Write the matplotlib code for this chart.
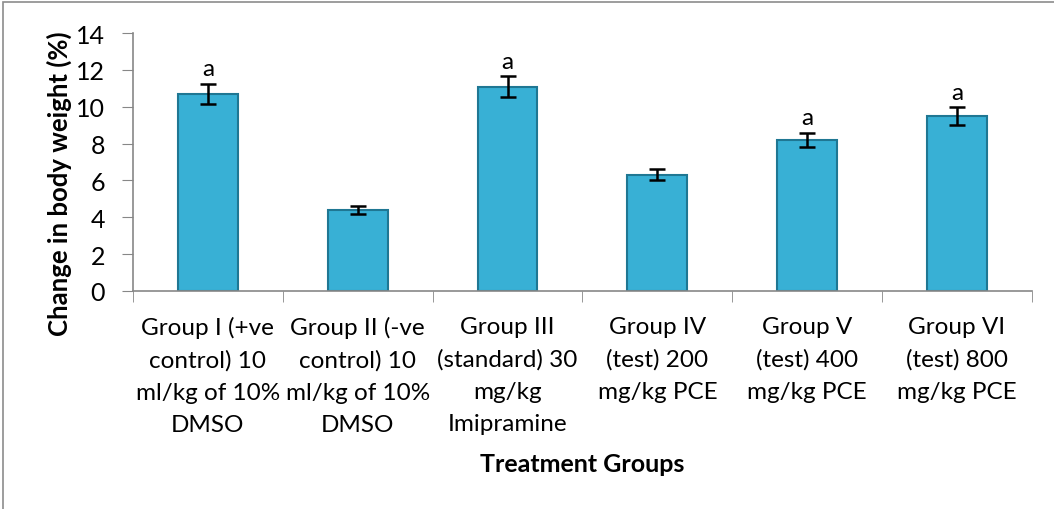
import matplotlib.pyplot as plt
import matplotlib.patches as mpatches
import numpy as np

groups = ['Group I (+ve\ncontrol) 10\nml/kg of 10%\nDMSO',
          'Group II (-ve\ncontrol) 10\nml/kg of 10%\nDMSO',
          'Group III\n(standard) 30\nmg/kg\nImipramine',
          'Group IV\n(test) 200\nmg/kg PCE',
          'Group V\n(test) 400\nmg/kg PCE',
          'Group VI\n(test) 800\nmg/kg PCE']
weight_change = [10.7, 4.4, 11.1, 6.3, 8.2, 9.5]
sem = [0.55, 0.2, 0.55, 0.3, 0.4, 0.47]
letters = ['a', '', 'a', '', 'a', 'a']

plt.rcParams['font.family'] = ['Lato', 'DejaVu Sans']

fig = plt.figure(figsize=(10.54, 5.10), dpi=100)
ax = fig.add_axes([0.1262, 0.4275, 0.8528, 0.5055])

# chart border like excel
fig.patches.append(mpatches.Rectangle((3 / 1054, -0.1), 1.2, 1.1 - 3 / 510,
                                      transform=fig.transFigure, fill=False,
                                      edgecolor='#8c8c8c', linewidth=1.2))

x = np.arange(len(groups))
ax.bar(x, weight_change, width=0.4, color='#38b0d5', edgecolor='#1f7793', linewidth=1.5, zorder=2)
ax.errorbar(x, weight_change, yerr=sem, fmt='none', ecolor='black', elinewidth=1.8,
            capsize=6, capthick=1.8, zorder=3)
for xi, v, s, l in zip(x, weight_change, sem, letters):
    if l:
        ax.text(xi, v + s + 0.25, l, ha='center', va='bottom', fontsize=17.5)

ax.set_xlim(-0.5, len(groups) - 0.5)
ax.set_ylim(0, 14)
ax.set_yticks(range(0, 15, 2))
ax.set_xticks(x)
ax.set_xticklabels(groups, fontsize=17.5, linespacing=1.65)
ax.set_xticks(np.arange(-0.5, len(groups)), minor=True)
ax.tick_params(axis='x', which='major', length=0, pad=18)
ax.tick_params(axis='x', which='minor', length=8, color='#878787')
ax.tick_params(axis='y', length=8, color='#878787', labelsize=18, pad=12)

for side in ['top', 'right']:
    ax.spines[side].set_visible(False)
for side in ['left', 'bottom']:
    ax.spines[side].set_color('#878787')
    ax.spines[side].set_linewidth(1.2)

ax.set_ylabel('Change in body weight (%)', fontsize=18.5, fontweight='bold')
ax.yaxis.set_label_coords(-0.068, 0.42)
ax.set_xlabel('Treatment Groups', fontsize=18, fontweight='bold', labelpad=12)

plt.savefig('out.png', dpi=100)
